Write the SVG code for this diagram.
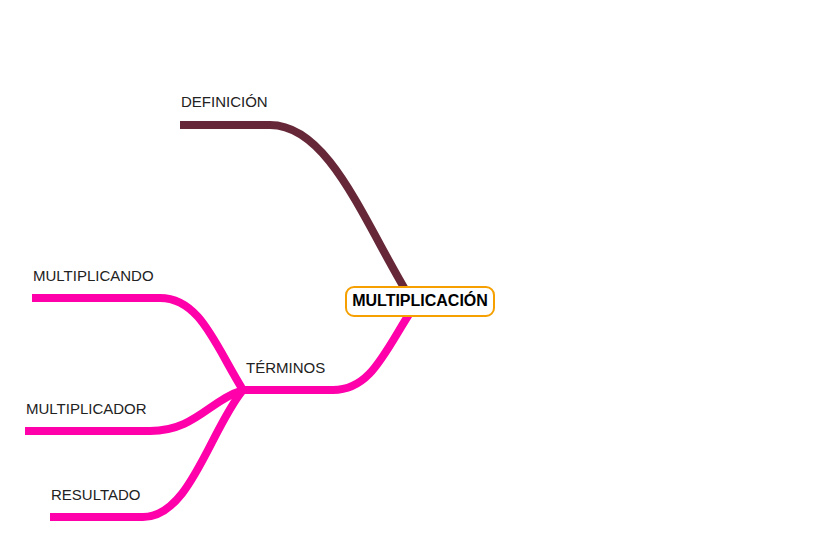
<svg xmlns="http://www.w3.org/2000/svg" width="840" height="546" viewBox="0 0 840 546">
<style>
.c{fill:none;stroke-width:8;stroke-linecap:butt;stroke-linejoin:round}
.m{stroke:#662838}
.p{stroke:#FF00AA}
.t{font-family:"Liberation Sans",Arial,sans-serif;font-size:15px;fill:#222}
.b{font-family:"Liberation Sans",Arial,sans-serif;font-size:16px;font-weight:bold;fill:#000}
</style>
<rect width="840" height="546" fill="#fff"/>
<g id="connectors">
<path class="c m" d="M180,125 H270 C330,125 365,225 412,301"/>
<path class="c p" d="M243,390 H333 C372,390 385,350 415,305"/>
<path class="c p" d="M32,298 H160 C200,298 215,345 243,390"/>
<path class="c p" d="M25,431 H150 C195,431 210,400 243,390"/>
<path class="c p" d="M50,517 H143 C190,517 210,430 243,390"/>
</g>
<g id="n-center">
<rect x="346" y="287" width="148" height="29" rx="8" fill="#fff" stroke="#F5A000" stroke-width="2"/>
<text class="b" x="420" y="306" text-anchor="middle">MULTIPLICACIÓN</text>
</g>
<g id="n-definicion"><text class="t" x="181" y="107">DEFINICIÓN</text></g>
<g id="n-terminos"><text class="t" x="246" y="373">TÉRMINOS</text></g>
<g id="n-multiplicando"><text class="t" x="33" y="281">MULTIPLICANDO</text></g>
<g id="n-multiplicador"><text class="t" x="26" y="414">MULTIPLICADOR</text></g>
<g id="n-resultado"><text class="t" x="51" y="500">RESULTADO</text></g>
</svg>
